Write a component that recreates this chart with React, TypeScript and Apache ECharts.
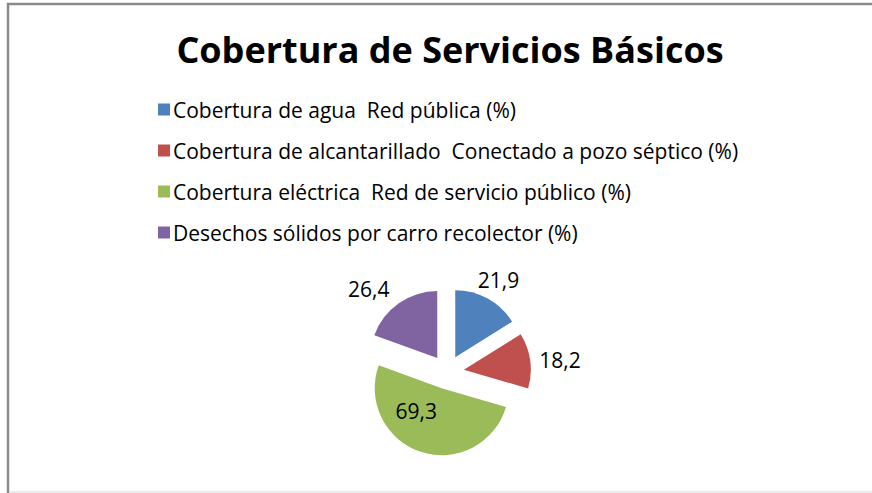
import React, { useEffect, useRef } from "react";
import * as echarts from "echarts";

const categories = [
  "Cobertura de agua  Red pública (%)",
  "Cobertura de alcantarillado  Conectado a pozo séptico (%)",
  "Cobertura eléctrica  Red de servicio público (%)",
  "Desechos sólidos por carro recolector (%)",
];
const values = [21.9, 18.2, 69.3, 26.4];
const colors = ["#4F81BD", "#C0504D", "#9BBB59", "#8064A2"];
const labelPositions = ["outside", "outside", "inside", "outside"];
const titleText = "Cobertura de Servicios Básicos";

// small label nudges to mimic Excel's "best fit" placement
const labelNudge = [
  [-17, -15],
  [0, 0],
  [-14, -12],
  [-2, -11],
];

export default function App() {
  const ref = useRef<HTMLDivElement>(null);
  useEffect(() => {
    document.body.style.margin = "0";
    const chart = echarts.init(ref.current!, null, { renderer: "svg" });
    const font = "'Open Sans', Lato, sans-serif";
    chart.setOption({
      animation: false,
      backgroundColor: "#ffffff",
      title: {
        text: titleText,
        left: 445,
        textAlign: "center",
        top: 26,
        textStyle: { fontFamily: font, fontWeight: "bold", fontSize: 36, color: "#000" },
      },
      legend: {
        orient: "vertical",
        left: 153,
        top: 94,
        itemWidth: 12,
        itemHeight: 12,
        itemGap: 20,
        icon: "rect",
        selectedMode: false,
        textStyle: {
          fontFamily: font,
          fontSize: 21,
          lineHeight: 21,
          color: "#000",
          padding: [0, 0, 0, -2],
        },
        data: categories,
      },
      graphic: [
        {
          type: "rect",
          shape: { x: 8, y: 4, width: 900, height: 540 },
          style: { fill: "none", stroke: "#8A8A8A", lineWidth: 2.5 },
          silent: true,
        },
        {
          type: "line",
          shape: { x1: 10, y1: 492, x2: 872, y2: 492 },
          style: { stroke: "#E4E4E4", lineWidth: 1.5 },
          silent: true,
        },
      ],
      series: [
        {
          type: "pie",
          center: [447, 372],
          radius: 67,
          startAngle: 90,
          clockwise: true,
          selectedMode: "multiple",
          selectedOffset: 17,
          emphasis: { disabled: true },
          labelLine: { show: false, length: 4, length2: 0 },
          label: {
            fontFamily: font,
            fontSize: 21,
            color: "#000",
            formatter: (p: any) => String(p.value).replace(".", ","),
          },
          labelLayout: (p: any) => ({
            dx: labelNudge[p.dataIndex][0],
            dy: labelNudge[p.dataIndex][1],
          }),
          data: categories.map((name, i) => ({
            name,
            value: values[i],
            selected: true,
            itemStyle: { color: colors[i] },
            label: { position: labelPositions[i] },
          })),
        },
      ],
    });
    return () => chart.dispose();
  }, []);
  return (
    <div
      ref={ref}
      style={{ position: "absolute", left: 0, top: 0, width: 872, height: 493 }}
    />
  );
}
